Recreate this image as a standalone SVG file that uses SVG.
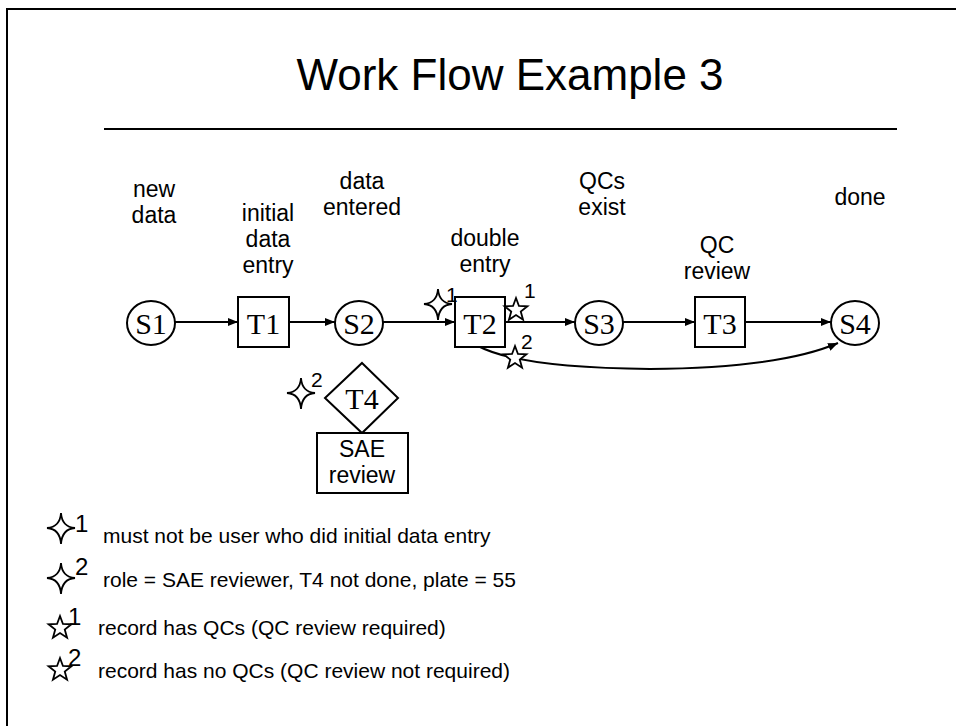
<svg xmlns="http://www.w3.org/2000/svg" width="956" height="726" viewBox="0 0 956 726">
<style>
.lbl{font-family:"Liberation Sans",Arial,sans-serif;font-size:23px;fill:#000;text-anchor:middle}
.leg{font-family:"Liberation Sans",Arial,sans-serif;font-size:21px;fill:#000}
.sup{font-family:"Liberation Sans",Arial,sans-serif;font-size:21px;fill:#000}
.lsup{font-family:"Liberation Sans",Arial,sans-serif;font-size:24px;fill:#000}
.node{font-family:"Liberation Serif","Times New Roman",serif;font-size:30px;fill:#000;text-anchor:middle}
.shape{fill:#fff;stroke:#000;stroke-width:2}
.conn{fill:none;stroke:#000;stroke-width:2}
.star{fill:#fff;stroke:#000;stroke-width:1.8;stroke-linejoin:miter}
</style>
<defs>
<marker id="ah" viewBox="0 0 10 8" refX="10" refY="4" markerWidth="10" markerHeight="8" markerUnits="userSpaceOnUse" orient="auto">
<path d="M0,0 L10,4 L0,8 Z" fill="#000"/>
</marker>
<path id="s4" d="M0,-15 Q1,-1 14,0 Q1,1 0,16 Q-1,1 -14,0 Q-1,-1 0,-15 Z"/>
<path id="s5" d="M0,-12 L2.94,-4.05 L11.41,-3.71 L4.76,1.55 L7.05,9.71 L0,5 L-7.05,9.71 L-4.76,1.55 L-11.41,-3.71 L-2.94,-4.05 Z"/>
</defs>
<rect width="956" height="726" fill="#fff"/>
<g id="frame">
<path d="M7,726 L7,9 L956,9" fill="none" stroke="#000" stroke-width="2"/>
</g>
<g id="title">
<text x="510" y="90" font-family="'Liberation Sans',Arial,sans-serif" font-size="44" text-anchor="middle">Work Flow Example 3</text>
<line x1="104" y1="129" x2="897" y2="129" stroke="#000" stroke-width="2"/>
</g>
<g id="connectors">
<line class="conn" x1="175" y1="322" x2="238" y2="322" marker-end="url(#ah)"/>
<line class="conn" x1="289" y1="322" x2="335" y2="322" marker-end="url(#ah)"/>
<line class="conn" x1="383" y1="322" x2="455" y2="322" marker-end="url(#ah)"/>
<line class="conn" x1="505" y1="322" x2="575" y2="322" marker-end="url(#ah)"/>
<line class="conn" x1="623" y1="322" x2="695" y2="322" marker-end="url(#ah)"/>
<line class="conn" x1="745" y1="322" x2="831" y2="322" marker-end="url(#ah)"/>
<path class="conn" d="M478,346 Q520,368 650,369 Q780,368 838,343" marker-end="url(#ah)"/>
</g>
<g id="S1"><ellipse class="shape" cx="151" cy="323" rx="24" ry="22"/><text class="node" x="151" y="334">S1</text></g>
<g id="T1"><rect class="shape" x="238" y="297" width="51" height="50"/><text class="node" x="263.5" y="334">T1</text></g>
<g id="S2"><ellipse class="shape" cx="359" cy="323" rx="24" ry="22"/><text class="node" x="359" y="334">S2</text></g>
<g id="T2"><rect class="shape" x="455" y="297" width="50" height="50"/><text class="node" x="480" y="334">T2</text></g>
<g id="S3"><ellipse class="shape" cx="599" cy="323" rx="24" ry="22"/><text class="node" x="599" y="334">S3</text></g>
<g id="T3"><rect class="shape" x="695" y="297" width="50" height="50"/><text class="node" x="720" y="334">T3</text></g>
<g id="S4"><ellipse class="shape" cx="855" cy="323" rx="24" ry="22"/><text class="node" x="855" y="334">S4</text></g>
<g id="T4"><path class="shape" d="M362,363 L398,398 L362,433 L325,398 Z"/><text class="node" x="362" y="409">T4</text></g>
<g id="SAE"><rect class="shape" x="317" y="433" width="91" height="60"/><text class="lbl" x="362" y="457">SAE</text><text class="lbl" x="362" y="483">review</text></g>
<g id="labels">
<text class="lbl"><tspan x="154" y="197">new</tspan><tspan x="154" y="223">data</tspan></text>
<text class="lbl"><tspan x="268" y="221">initial</tspan><tspan x="268" y="247">data</tspan><tspan x="268" y="273">entry</tspan></text>
<text class="lbl"><tspan x="362" y="189">data</tspan><tspan x="362" y="215">entered</tspan></text>
<text class="lbl"><tspan x="485" y="246">double</tspan><tspan x="485" y="272">entry</tspan></text>
<text class="lbl"><tspan x="602" y="189">QCs</tspan><tspan x="602" y="215">exist</tspan></text>
<text class="lbl"><tspan x="717" y="253">QC</tspan><tspan x="717" y="279">review</tspan></text>
<text class="lbl" x="860" y="205">done</text>
</g>
<g id="markers">
<use href="#s4" class="star" x="438" y="304"/><text class="sup" x="446" y="302">1</text>
<use href="#s5" class="star" x="516" y="310"/><text class="sup" x="524" y="298">1</text>
<use href="#s5" class="star" x="515" y="358"/><text class="sup" x="521" y="349">2</text>
<use href="#s4" class="star" x="301" y="393"/><text class="sup" x="311" y="387">2</text>
</g>
<g id="legend">
<use href="#s4" class="star" x="61" y="528"/><text class="lsup" x="75" y="532">1</text>
<text class="leg" x="103" y="543">must not be user who did initial data entry</text>
<use href="#s4" class="star" x="61" y="578"/><text class="lsup" x="75" y="575">2</text>
<text class="leg" x="103" y="587">role = SAE reviewer, T4 not done, plate = 55</text>
<use href="#s5" class="star" x="60" y="628"/><text class="lsup" x="68" y="625">1</text>
<text class="leg" x="98" y="635">record has QCs (QC review required)</text>
<use href="#s5" class="star" x="60" y="670"/><text class="lsup" x="68" y="666">2</text>
<text class="leg" x="98" y="678">record has no QCs (QC review not required)</text>
</g>
</svg>
